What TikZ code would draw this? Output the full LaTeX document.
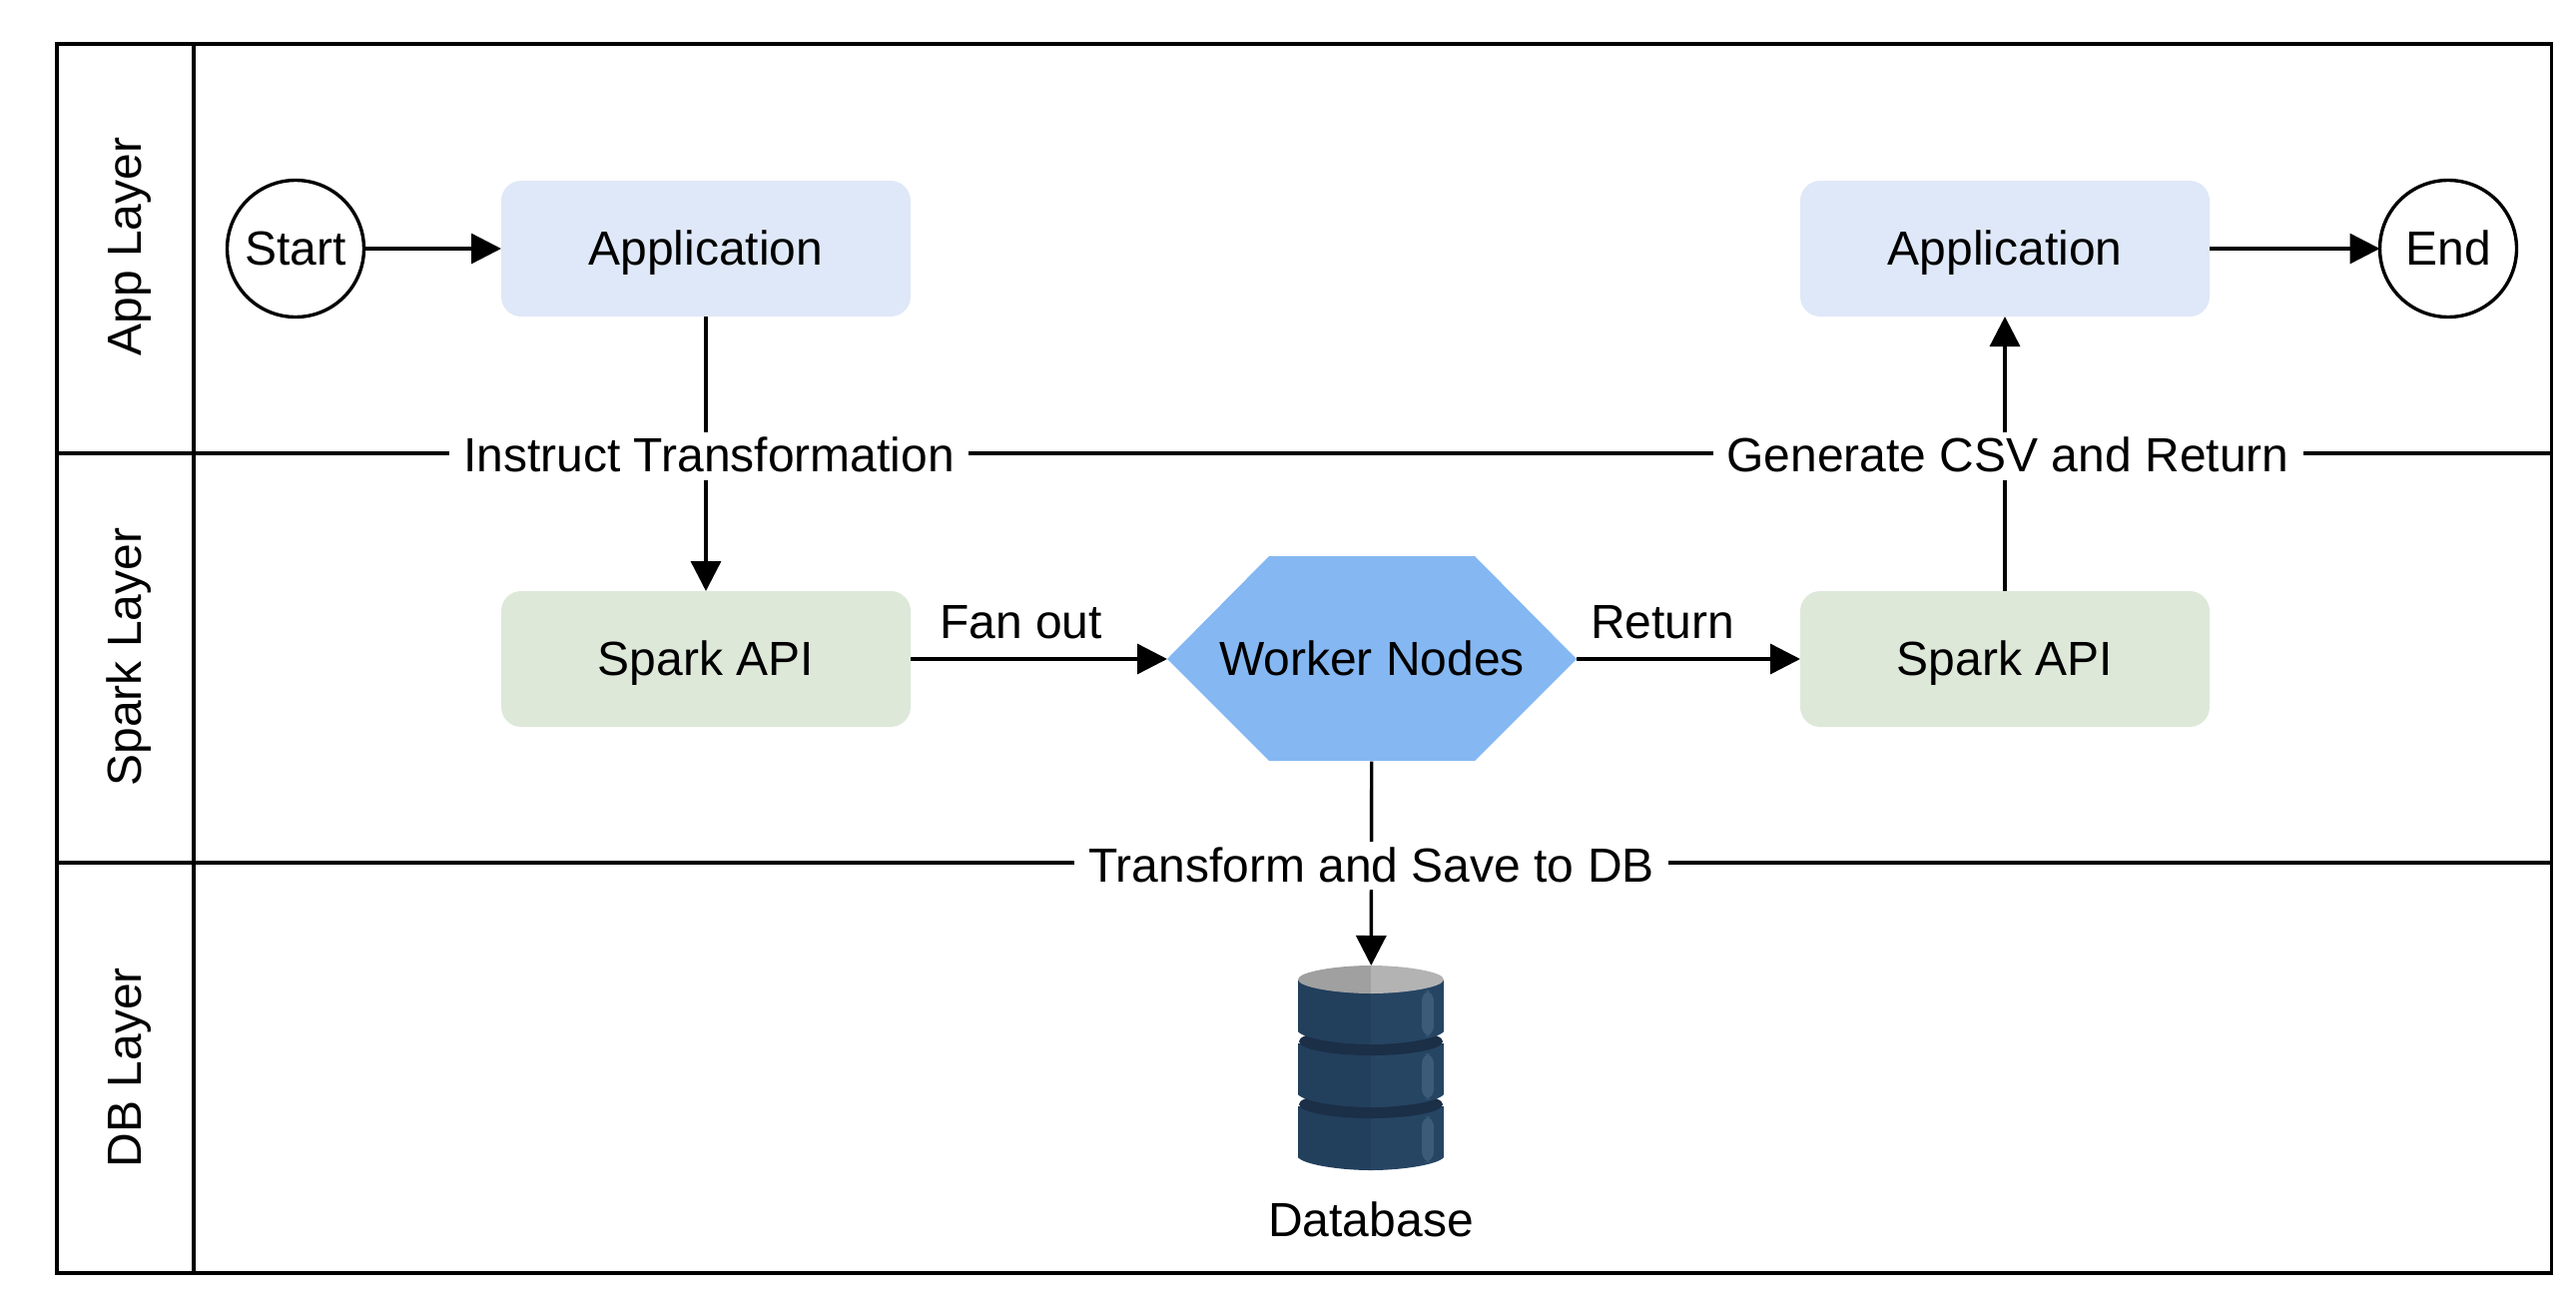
\documentclass[tikz,border=0pt]{standalone}
\usepackage{fontspec}
\setmainfont{Liberation Sans}
\usetikzlibrary{arrows.meta}
\definecolor{appblue}{HTML}{DFE8F8}
\definecolor{sparkgreen}{HTML}{DDE8D9}
\definecolor{workerblue}{HTML}{85B8F2}
\definecolor{dbleft}{HTML}{223F5C}
\definecolor{dbright}{HTML}{264563}
\definecolor{dbband}{HTML}{1B2F47}
\definecolor{dbshine}{HTML}{3C5B78}
\definecolor{dbtopl}{HTML}{A0A0A0}
\definecolor{dbtopr}{HTML}{B3B3B3}
\tikzset{
  every node/.style={font=\fontsize{24}{28}\selectfont,inner sep=0pt,outer sep=0pt,text height=20pt,text depth=4pt},
  lane/.style={draw,line width=1.7pt,rectangle,minimum width=1180.5pt,minimum height=205pt},
  lanehead/.style={draw,line width=1.7pt,rectangle,minimum width=68.5pt,minimum height=205pt},
  lanetext/.style={rotate=90},
  roundbox/.style={rectangle,rounded corners=10pt,minimum width=205pt,minimum height=68pt},
  event/.style={draw,line width=1.7pt,circle,minimum size=68.5pt},
  link/.style={line width=1.7pt,-{Triangle[length=15pt,width=15pt]}},
  tag/.style={fill=white,inner xsep=7pt,inner ysep=0pt,yshift=-1.2pt}
}
\begin{document}
\begin{tikzpicture}[x=0.5pt,y=-0.5pt]
  \useasboundingbox (0,0) rectangle (2580,1306);
  % lanes
  \node[lane] (applane) at (1375,249) {};
  \node[lane] (sparklane) at (1375,659) {};
  \node[lane,minimum height=205.5pt] (dblane) at (1375,1069.5) {};
  \node[lanehead] (apphead) at (125.5,249) {};
  \node[lanehead] (sparkhead) at (125.5,659) {};
  \node[lanehead,minimum height=205.5pt] (dbhead) at (125.5,1069.5) {};
  \node[lanetext] (apptext) at (125,247) {App Layer};
  \node[lanetext] (sparktext) at (125,658) {Spark Layer};
  \node[lanetext] (dbtext) at (125,1069) {DB Layer};
  % app layer
  \node[event] (start) at (296,249) {Start};
  \node[roundbox,fill=appblue] (app1) at (707,249) {Application};
  \node[roundbox,fill=appblue] (app2) at (2008,249) {Application};
  \node[event] (end) at (2452,249) {End};
  % spark layer
  \node[roundbox,fill=sparkgreen] (spark1) at (707,660) {Spark API};
  \node[roundbox,fill=sparkgreen] (spark2) at (2008,660) {Spark API};
  \fill[workerblue] (1169,660)--(1271,557)--(1477,557)--(1579,660)--(1477,762)--(1271,762)--cycle;
  \node[minimum width=205pt,minimum height=102.5pt] (worker) at (1374,660) {Worker Nodes};
  % database
  \foreach \o in {126,63,0}{
    \ifnum\o<126
      \fill[dbband] (1373,1043+\o) ellipse [x radius=72,y radius=14];
    \fi
    \fill[dbleft] (1300,982+\o)--(1300,1033+\o) .. controls (1305,1040+\o) and (1340,1046+\o) .. (1373,1046+\o)--(1373,982+\o)--cycle;
    \fill[dbright] (1446,982+\o)--(1446,1033+\o) .. controls (1441,1040+\o) and (1406,1046+\o) .. (1373,1046+\o)--(1373,982+\o)--cycle;
    \fill[dbshine,rounded corners=5pt] (1424,992+\o) rectangle (1436,1038+\o);
  }
  \fill[dbtopl] (1300,981) .. controls (1300,973) and (1340,967) .. (1373,967)--(1373,995) .. controls (1340,995) and (1300,989) .. (1300,981);
  \fill[dbtopr] (1446,981) .. controls (1446,973) and (1406,967) .. (1373,967)--(1373,995) .. controls (1406,995) and (1446,989) .. (1446,981);
  \node[minimum width=73pt,minimum height=102pt] (db) at (1373,1069) {};
  \node (dblabel) at (1373,1222) {Database};
  % connectors
  \draw[link] (start)--(app1);
  \draw[link] (app2)--(end);
  \draw[link] (app1)--node[tag,xshift=1.5pt] (instruct) {Instruct Transformation} (spark1);
  \draw[link] (spark2)--node[tag,xshift=1.5pt] (generate) {Generate CSV and Return} (app2);
  \draw[link] (spark1)--node[pos=0.43,above=6.5pt] (fanout) {Fan out} (worker);
  \draw[link] (worker)--node[pos=0.385,above=6.5pt] (return) {Return} (spark2);
  \draw[link] (worker)--node[tag] (transform) {Transform and Save to DB} (db);
\end{tikzpicture}
\end{document}
